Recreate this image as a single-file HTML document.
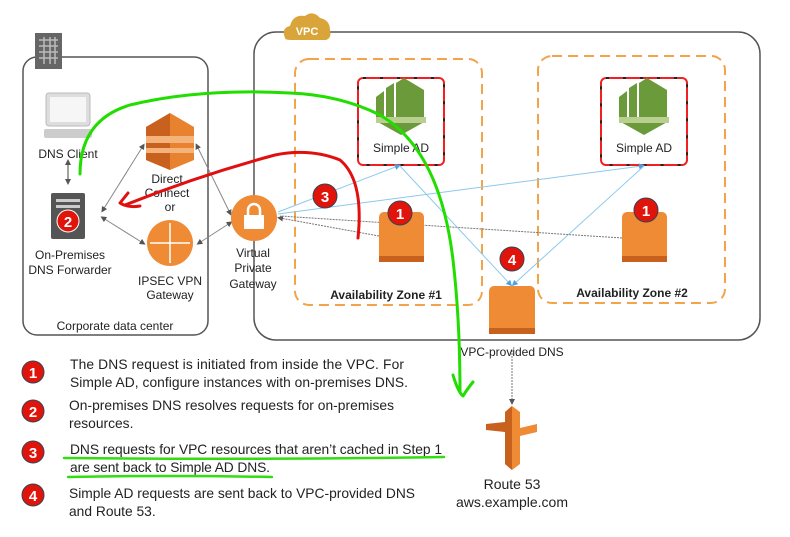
<!DOCTYPE html>
<html><head><meta charset="utf-8"><style>
html,body{margin:0;padding:0;background:#fff;}
svg{display:block;font-family:"Liberation Sans",sans-serif;}
</style></head><body>
<svg width="790" height="537" viewBox="0 0 790 537" xmlns="http://www.w3.org/2000/svg">
<defs>
<marker id="ag" markerWidth="6" markerHeight="6" refX="3" refY="3" orient="auto-start-reverse"><path d="M0,0 L6,3 L0,6z" fill="#555"/></marker>
<marker id="ab" markerWidth="6" markerHeight="6" refX="3" refY="3" orient="auto"><path d="M0,0 L6,3 L0,6z" fill="#4aa3e0"/></marker>
</defs>
<rect x="23" y="57" width="185" height="278" rx="14" fill="none" stroke="#555" stroke-width="1.5"/>
<rect x="35" y="33" width="27" height="36" fill="#666"/>
<g stroke="#bbb" stroke-width="1.5"><line x1="39" y1="40" x2="58" y2="40"/><line x1="39" y1="46" x2="58" y2="46"/><line x1="39" y1="52" x2="58" y2="52"/><line x1="39" y1="58" x2="58" y2="58"/><line x1="44" y1="37" x2="44" y2="64"/><line x1="50" y1="37" x2="50" y2="64"/><line x1="55" y1="37" x2="55" y2="64"/></g>
<text x="115" y="330" font-size="12" text-anchor="middle" fill="#222">Corporate data center</text>
<rect x="46" y="93" width="44" height="33" rx="3" fill="#ddd" stroke="#bbb"/>
<rect x="50" y="97" width="36" height="25" fill="#f6f6f6"/>
<rect x="44" y="129" width="48" height="9" rx="2" fill="#ccc"/>
<text x="68" y="158" font-size="12" text-anchor="middle" fill="#222">DNS Client</text>
<line x1="68" y1="162" x2="68" y2="182" stroke="#444" marker-start="url(#ag)" marker-end="url(#ag)"/>
<rect x="51" y="193" width="34" height="46" rx="2" fill="#555"/>
<rect x="56" y="199" width="24" height="3" fill="#ccc"/><rect x="56" y="205" width="24" height="3" fill="#ccc"/>
<circle cx="68" cy="221" r="11" fill="#e0140a" stroke="#fff" stroke-width="1"/>
<text x="68" y="227" font-size="15" font-weight="bold" fill="#fff" text-anchor="middle">2</text>
<text x="70" y="259" font-size="12" text-anchor="middle" fill="#222">On-Premises</text>
<text x="70" y="274" font-size="12" text-anchor="middle" fill="#222">DNS Forwarder</text>
<path d="M146,127 L170,113 L194,127 L194,160 L170,170 L146,160z" fill="#e8822f"/>
<path d="M146,127 L170,113 L170,170 L146,160z" fill="#c8611d"/>
<rect x="146" y="136" width="48" height="7" fill="#f4b37a"/>
<rect x="146" y="148" width="48" height="5" fill="#f4b37a"/>
<text x="167" y="183" font-size="12" text-anchor="middle" fill="#222">Direct</text>
<text x="167" y="197" font-size="12" text-anchor="middle" fill="#222">Connect</text>
<text x="170" y="211" font-size="12" text-anchor="middle" fill="#222">or</text>
<circle cx="170" cy="243" r="23" fill="#ef8a35"/>
<g stroke="#fff" stroke-width="1.5"><line x1="150" y1="243" x2="190" y2="243"/><line x1="170" y1="223" x2="170" y2="263"/></g>
<text x="170" y="285" font-size="12" text-anchor="middle" fill="#222">IPSEC VPN</text>
<text x="170" y="299" font-size="12" text-anchor="middle" fill="#222">Gateway</text>
<g stroke="#888" stroke-width="1" fill="none" marker-start="url(#ag)" marker-end="url(#ag)">
<line x1="103" y1="210" x2="143" y2="146"/><line x1="103" y1="218" x2="143" y2="243"/>
<line x1="197" y1="146" x2="230" y2="213"/><line x1="199" y1="243" x2="230" y2="223"/>
</g>
<rect x="254" y="32" width="506" height="308" rx="22" fill="none" stroke="#555" stroke-width="1.5"/>
<path d="M285,38 Q281,28 290,26 Q293,14 305,16 Q313,10 320,18 Q330,20 330,30 Q332,38 326,40 L292,40 Q285,40 285,38z" fill="#d9a53a"/>
<text x="307" y="35" font-size="11" font-weight="bold" fill="#fff" text-anchor="middle">VPC</text>
<circle cx="254" cy="218" r="23" fill="#ef8a35"/>
<rect x="244" y="215" width="20" height="14" fill="#fff"/>
<path d="M248,215 v-5 a6,6 0 0 1 12,0 v5" fill="none" stroke="#fff" stroke-width="2.5"/>
<text x="253" y="257" font-size="12" text-anchor="middle" fill="#222">Virtual</text>
<text x="253" y="272" font-size="12" text-anchor="middle" fill="#222">Private</text>
<text x="253" y="288" font-size="12" text-anchor="middle" fill="#222">Gateway</text>
<rect x="295" y="59" width="187" height="246" rx="14" fill="none" stroke="#f2a44a" stroke-width="2" stroke-dasharray="10,6"/>
<rect x="538" y="56" width="187" height="247" rx="14" fill="none" stroke="#f2a44a" stroke-width="2" stroke-dasharray="10,6"/>
<text x="386" y="299" font-size="12" font-weight="bold" text-anchor="middle" fill="#222">Availability Zone #1</text>
<text x="632" y="297" font-size="12" font-weight="bold" text-anchor="middle" fill="#222">Availability Zone #2</text>
<g id="sad">
<rect x="358" y="78" width="86" height="87" rx="5" fill="#fff" stroke="#e22" stroke-width="2"/>
<rect x="358" y="78" width="86" height="87" rx="5" fill="none" stroke="#222" stroke-width="2" stroke-dasharray="3,14"/>
<path d="M376,97 L384,91 L384,118 L376,118z M386,88 L394,83 L394,118 L386,118z M396,83 L404,78 L424,90 L424,118 L396,118z" fill="#6b9a3a"/>
<path d="M376,121 L426,121 L401,135z" fill="#6b9a3a"/>
<rect x="376" y="117" width="50" height="6" fill="#b9cf8f"/>
<text x="401" y="152" font-size="12" text-anchor="middle" fill="#222">Simple AD</text>
</g>
<use href="#sad" x="243" y="0"/>
<g stroke="#777" stroke-width="1" stroke-dasharray="2,1" fill="none">
<line x1="379" y1="236" x2="280" y2="218" marker-end="url(#ag)"/>
<line x1="622" y1="238" x2="280" y2="216"/>
</g>
<g stroke="#8cc8ee" stroke-width="1" fill="none">
<line x1="278" y1="212" x2="398" y2="166" marker-end="url(#ab)"/>
<line x1="278" y1="214" x2="642" y2="166" marker-end="url(#ab)"/>
<line x1="400" y1="166" x2="510" y2="284" marker-end="url(#ab)"/>
<line x1="644" y1="166" x2="514" y2="284" marker-end="url(#ab)"/>
</g>
<line x1="512" y1="350" x2="512" y2="402" stroke="#777" stroke-dasharray="2,1" marker-end="url(#ag)"/>
<rect x="379" y="212" width="45" height="50" rx="5" fill="#ef8a35"/><rect x="379" y="256" width="45" height="6" fill="#c8611d"/>
<rect x="622" y="212" width="45" height="50" rx="5" fill="#ef8a35"/><rect x="622" y="256" width="45" height="6" fill="#c8611d"/>
<rect x="489" y="286" width="46" height="48" rx="5" fill="#ef8a35"/><rect x="489" y="328" width="46" height="6" fill="#c8611d"/>
<text x="512" y="356" font-size="12" text-anchor="middle" fill="#222">VPC-provided DNS</text>
<g font-size="15" font-weight="bold" fill="#fff" text-anchor="middle">
<circle cx="400" cy="213" r="12" fill="#e0140a" stroke="#345" stroke-width="1"/><text x="400" y="219">1</text>
<circle cx="646" cy="210" r="12" fill="#e0140a" stroke="#345" stroke-width="1"/><text x="646" y="216">1</text>
<circle cx="325" cy="196" r="12" fill="#e0140a" stroke="#345" stroke-width="1"/><text x="325" y="202">3</text>
<circle cx="512" cy="259" r="12" fill="#e0140a" stroke="#345" stroke-width="1"/><text x="512" y="265">4</text>
</g>
<path d="M505,412 L512,406 L520,412 L520,464 L512,470 L505,464z" fill="#ef8a35"/>
<path d="M505,412 L512,406 L512,470 L505,464z" fill="#c8611d"/>
<path d="M486,424 L505,422 L505,432 L486,430z" fill="#c8611d"/>
<path d="M520,428 L537,424 L537,432 L520,436z" fill="#ef8a35"/>
<text x="512" y="489" font-size="14" text-anchor="middle" fill="#222">Route 53</text>
<text x="512" y="507" font-size="14" text-anchor="middle" fill="#222">aws.example.com</text>
<g font-size="15" font-weight="bold" fill="#fff" text-anchor="middle">
<circle cx="33" cy="372" r="11" fill="#e0140a" stroke="#345"/><text x="33" y="378">1</text>
<circle cx="33" cy="411" r="11" fill="#e0140a" stroke="#345"/><text x="33" y="417">2</text>
<circle cx="33" cy="452" r="11" fill="#e0140a" stroke="#345"/><text x="33" y="458">3</text>
<circle cx="33" cy="495" r="11" fill="#e0140a" stroke="#345"/><text x="33" y="501">4</text>
</g>
<g font-size="13.8" fill="#222">
<text x="70" y="369" textLength="334">The DNS request is initiated from inside the VPC.  For</text>
<text x="70" y="387" textLength="338">Simple AD, configure instances with on-premises DNS.</text>
<text x="69" y="410" textLength="325">On-premises DNS resolves requests for on-premises</text>
<text x="69" y="428">resources.</text>
<text x="70" y="454" textLength="372">DNS requests for VPC resources that aren’t cached in Step 1</text>
<text x="70" y="472" textLength="200">are sent back to Simple AD DNS.</text>
<text x="69" y="498" textLength="346">Simple AD requests are sent back to VPC-provided DNS</text>
<text x="69" y="516">and Route 53.</text>
</g>
<g fill="none" stroke-linecap="round" stroke-linejoin="round">
<path d="M64,458 Q250,460 444,457" stroke="#33dd11" stroke-width="2.5"/>
<path d="M68,477 Q170,475 272,477" stroke="#33dd11" stroke-width="2.5"/>
<path d="M80,174 Q80,120 130,105 Q200,88 290,93 Q340,95 380,115 Q440,150 453,260 Q460,320 460,392" stroke="#22dd00" stroke-width="3"/>
<path d="M453,375 Q458,392 463,396 Q468,388 473,382" stroke="#22dd00" stroke-width="3"/>
<path d="M358,238 Q364,180 340,160 Q310,148 275,155 Q200,175 125,205" stroke="#e01010" stroke-width="3"/>
<path d="M128,193 L120,203 Q128,208 140,206" stroke="#e01010" stroke-width="3"/>
</g>
</svg>
</body></html>
